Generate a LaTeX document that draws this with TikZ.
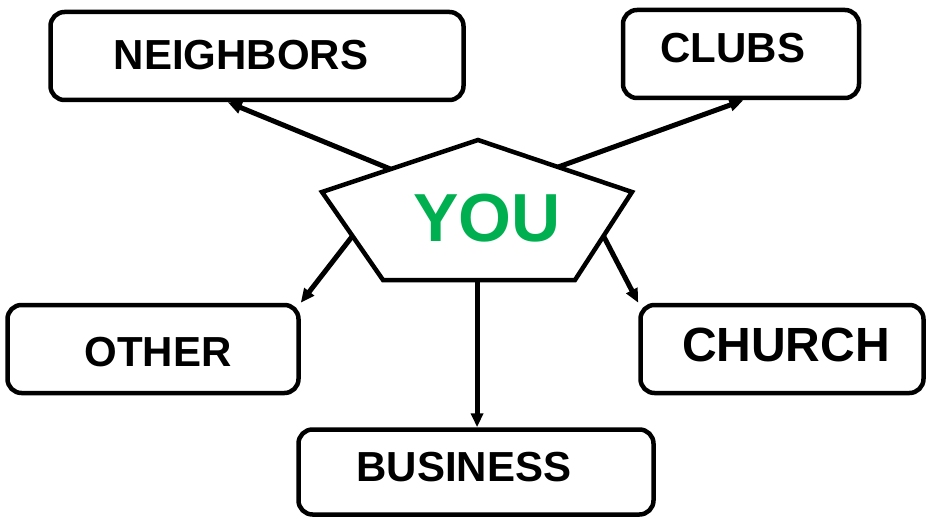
\documentclass[tikz,border=0pt]{standalone}
\usepackage{fontspec}
\setmainfont{Liberation Sans}
\usetikzlibrary{arrows.meta,calc}
\definecolor{yougreen}{RGB}{0,176,80}
\tikzset{
  box/.style={draw=black,line width=4.5pt,rounded corners=14pt,inner sep=0pt},
  lbl/.style={font=\fontsize{42}{46}\selectfont\bfseries,inner sep=0pt},
  arr/.style={line width=5pt,-{Triangle[length=14pt,width=12pt]}},
}
\begin{document}
\begin{tikzpicture}[x=1pt,y=-1pt]
\useasboundingbox (0,0) rectangle (927,519);
% boxes
\node[box,minimum width=413pt,minimum height=88pt] (nb) at (257,56) {};
\node[box,minimum width=236pt,minimum height=88pt] (cb) at (741,54) {};
\node[box,minimum width=291pt,minimum height=88pt] (ob) at (153,349) {};
\node[box,minimum width=283pt,minimum height=88pt] (chb) at (782,349) {};
\node[box,minimum width=355pt,minimum height=85pt] (bb) at (476,472) {};
% labels
\node[lbl] (nt) at (241,55) {NEIGHBORS};
\node[lbl] (ct) at (733,48) {CLUBS};
\node[lbl] (ot) at (158,352) {OTHER};
\node[lbl,font=\fontsize{48}{52}\selectfont\bfseries] (cht) at (786,345) {CHURCH};
\node[lbl] (bt) at (464,467) {BUSINESS};
% pentagon
\coordinate (p1) at (478,140);
\coordinate (p2) at (632,192);
\coordinate (p3) at (575,280);
\coordinate (p4) at (383,280);
\coordinate (p5) at (322,192);
\draw[line width=4.5pt,line join=miter] (p1) -- (p2) -- (p3) -- (p4) -- (p5) -- cycle;
\node[font=\fontsize{68}{72}\selectfont\bfseries,text=yougreen,inner sep=0pt] (you) at (487,218) {YOU};
% arrow start points
\coordinate (sn) at ($(p5)!0.44!(p1)$);
\coordinate (sc) at ($(p1)!0.52!(p2)$);
\coordinate (so) at ($(p5)!0.5!(p4)$);
\coordinate (sch) at ($(p2)!0.5!(p3)$);
\coordinate (sb) at ($(p4)!0.49!(p3)$);
% arrow end points
\coordinate (en) at ($(nb.south west)!0.43!(nb.south east)$);
\coordinate (ec) at ($(cb.south west)!0.51!(cb.south east)$);
% arrows
\draw[arr] (sn) -- (en);
\draw[arr] (sc) -- (ec);
\draw[arr] (so) -- (ob.north east);
\draw[arr] (sch) -- (chb.north west);
\draw[arr] (sb) -- (sb |- bb.north);
\end{tikzpicture}
\end{document}
